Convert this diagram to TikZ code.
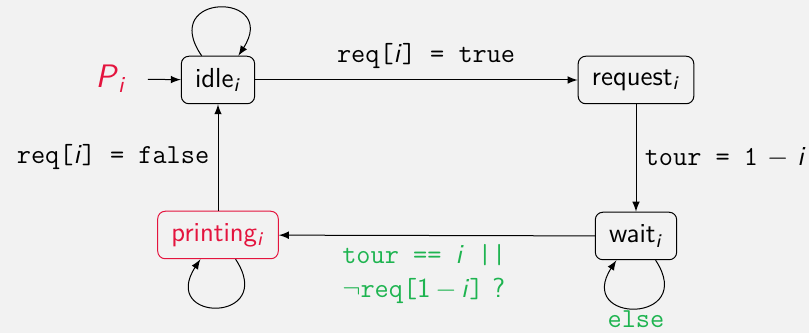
\documentclass[tikz,border=0pt]{standalone}
\usepackage{tikz}
\usetikzlibrary{shapes}
\usetikzlibrary{backgrounds}
\usepackage{xcolor}

\definecolor{bgcol}{RGB}{242,242,242}
\definecolor{procred}{RGB}{228,20,62}
\definecolor{guardgreen}{RGB}{30,180,80}

\newcommand{\ii}{\textit{i}}
\newcommand{\elevensf}{\fontsize{11}{13.5}\selectfont\sffamily}

\tikzset{
  state/.style={draw,rounded corners=3pt,inner xsep=5.5pt,minimum height=19pt,font=\elevensf},
  lbl/.style={font=\elevensf},
  guard/.style={lbl,text=guardgreen}
}

\begin{document}
\begin{tikzpicture}[x=0.4pt,y=0.4pt,>=latex,font=\elevensf]
\fill[bgcol] (0,0) rectangle (809,333);
\useasboundingbox (0,0) rectangle (809,333);

\node[state] (idle) at (218,253) {idle\textsubscript{\ii}};
\node[state] (request) at (636,253) {request\textsubscript{\ii}};
\node[state] (wait) at (636,97) {wait\textsubscript{\ii}};
\node[state,draw=procred,text=procred] (printing) at (218,98) {printing\textsubscript{\ii}};
\node[text=procred,font=\fontsize{13}{15}\selectfont\sffamily] (P) at (111,254) {\textit{P}\textsubscript{\ii}};

\draw[->,shorten <=5pt] (P) -- (idle);
\draw[->] (idle) -- (request) node[lbl,above=1pt,pos=0.53] {\texttt{req[}\ii\texttt{] = true}};
\draw[->] (request) -- (wait) node[lbl,right,midway] {\texttt{tour = 1} $-$ \ii};
\draw[->] (wait) -- (printing) node[guard,below,midway,align=left,xshift=-5pt] {\texttt{tour == }\ii\texttt{ ||}\\$\neg$\texttt{req[}1\,$-$\,\ii\texttt{]} ?};
\draw[->] (printing) -- (idle) node[lbl,left,midway] {\texttt{req[}\ii\texttt{] = false}};

% self loops
\draw[->] (idle.124) .. controls +(-44,64) and +(42,64) .. (idle.50);
\draw[->] (printing.306) .. controls +(42,-64) and +(-42,-64) .. (printing.234);
\draw[->] (wait.309) .. controls +(42,-64) and +(-42,-64) .. (wait.231)
  node[guard,below=-2.5pt,pos=0.5] {\texttt{else}};
\end{tikzpicture}
\end{document}
